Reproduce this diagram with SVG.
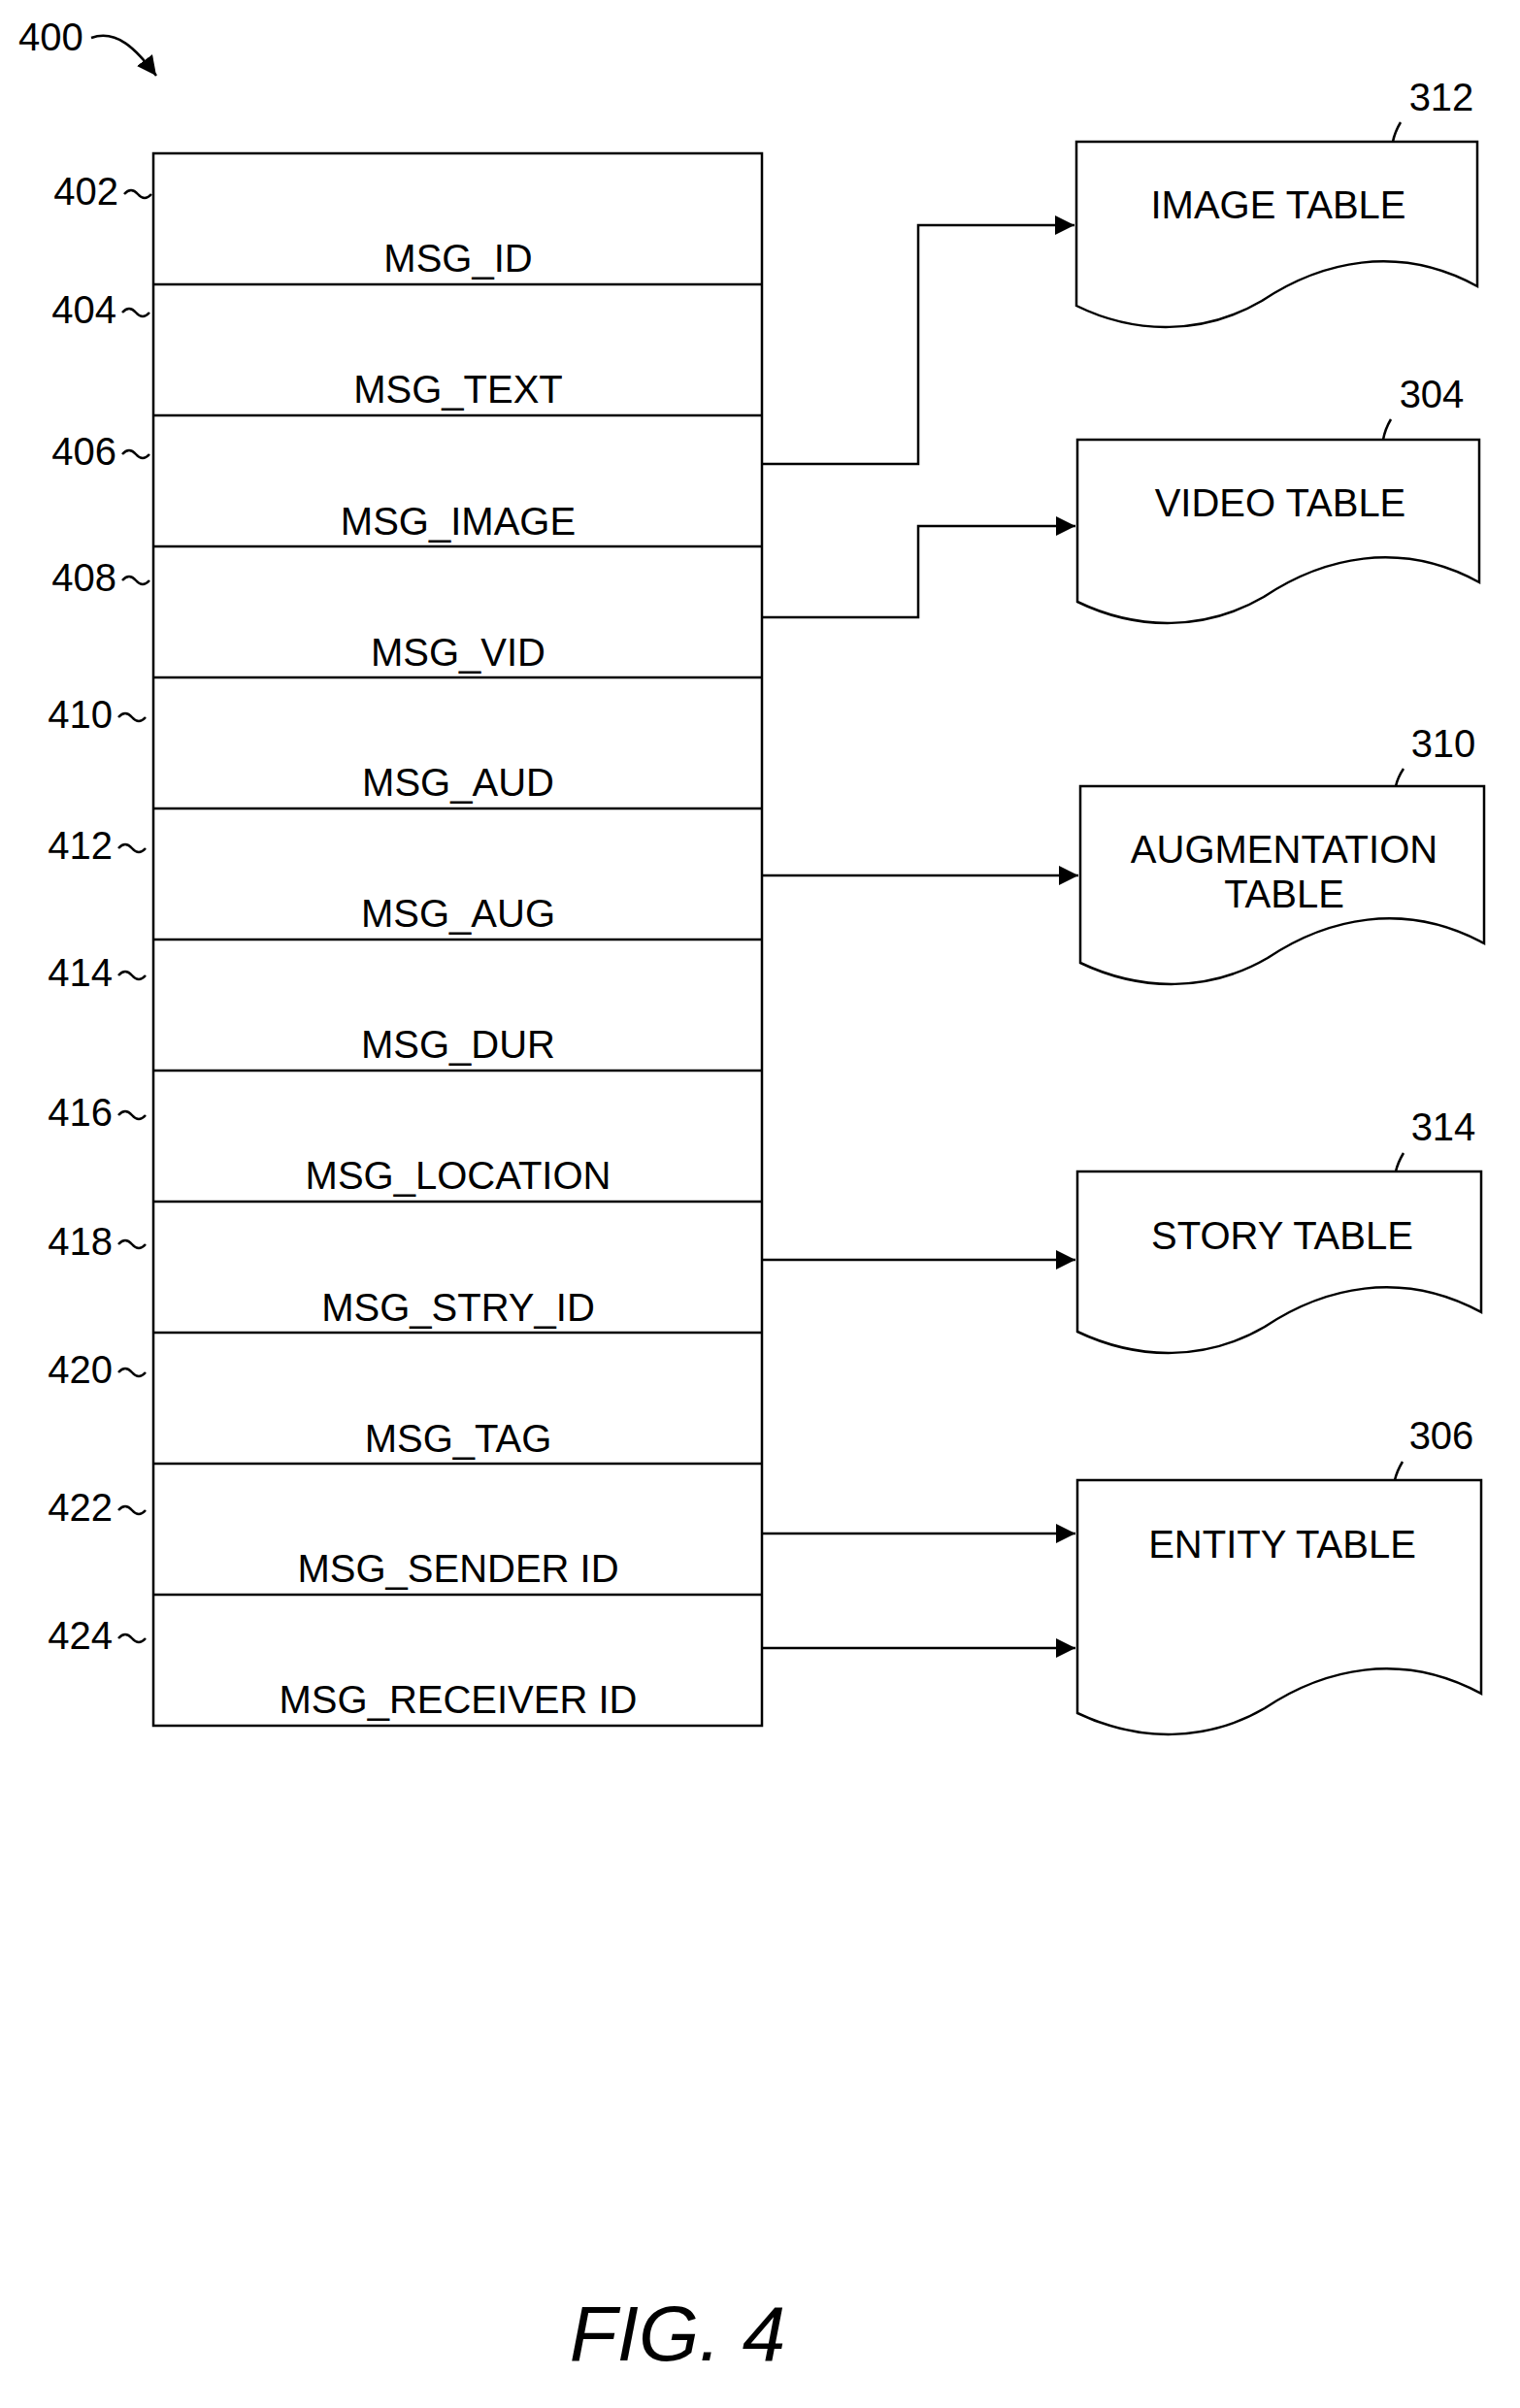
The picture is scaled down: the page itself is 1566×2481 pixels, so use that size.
<svg xmlns="http://www.w3.org/2000/svg" width="1566" height="2481" viewBox="0 0 1566 2481">
<style>
.t{font-family:"Liberation Sans",Arial,sans-serif;font-size:40px;fill:#000;text-anchor:middle}
.n{font-family:"Liberation Sans",Arial,sans-serif;font-size:40px;fill:#000;text-anchor:end}
.l{fill:none;stroke:#000;stroke-width:2.5}
.d{fill:#fff;stroke:#000;stroke-width:2.5}
</style>
<defs>
<marker id="ab" viewBox="0 0 10 10" refX="10" refY="5" markerWidth="20" markerHeight="20" markerUnits="userSpaceOnUse" orient="auto"><path d="M0,0 L10,5 L0,10 z"/></marker>
</defs>
<text x="19" y="52" class="t" style="text-anchor:start">400</text>
<path class="l" d="M94,39 C120,30 140,50 161,78" marker-end="url(#ab)"/>
<g id="record">
<rect class="d" x="158" y="158" width="627" height="1620"/>
<g class="l">
<path d="M158,293H785M158,428H785M158,563H785M158,698H785M158,833H785M158,968H785M158,1103H785M158,1238H785M158,1373H785M158,1508H785M158,1643H785"/>
</g>
<text class="t" x="472" y="280">MSG_ID</text>
<text class="t" x="472" y="415">MSG_TEXT</text>
<text class="t" x="472" y="551">MSG_IMAGE</text>
<text class="t" x="472" y="686">MSG_VID</text>
<text class="t" x="472" y="820">MSG_AUD</text>
<text class="t" x="472" y="955">MSG_AUG</text>
<text class="t" x="472" y="1090">MSG_DUR</text>
<text class="t" x="472" y="1225">MSG_LOCATION</text>
<text class="t" x="472" y="1361">MSG_STRY_ID</text>
<text class="t" x="472" y="1496">MSG_TAG</text>
<text class="t" x="472" y="1630">MSG_SENDER ID</text>
<text class="t" x="472" y="1765">MSG_RECEIVER ID</text>
</g>
<g id="refs">
<text class="n" x="122" y="211">402</text>
<text class="n" x="120" y="333">404</text>
<text class="n" x="120" y="479">406</text>
<text class="n" x="120" y="609">408</text>
<text class="n" x="116" y="750">410</text>
<text class="n" x="116" y="885">412</text>
<text class="n" x="116" y="1016">414</text>
<text class="n" x="116" y="1160">416</text>
<text class="n" x="116" y="1293">418</text>
<text class="n" x="116" y="1425">420</text>
<text class="n" x="116" y="1567">422</text>
<text class="n" x="116" y="1699">424</text>
<g class="l" stroke-width="2">
<path d="M128,200 q7,-8 14,0 t14,0"/>
<path d="M126,322 q7,-8 14,0 t14,0"/>
<path d="M126,468 q7,-8 14,0 t14,0"/>
<path d="M126,598 q7,-8 14,0 t14,0"/>
<path d="M122,739 q7,-8 14,0 t14,0"/>
<path d="M122,874 q7,-8 14,0 t14,0"/>
<path d="M122,1005 q7,-8 14,0 t14,0"/>
<path d="M122,1149 q7,-8 14,0 t14,0"/>
<path d="M122,1282 q7,-8 14,0 t14,0"/>
<path d="M122,1414 q7,-8 14,0 t14,0"/>
<path d="M122,1556 q7,-8 14,0 t14,0"/>
<path d="M122,1688 q7,-8 14,0 t14,0"/>
</g>
</g>
<g id="image_table">
<path class="d" d="M1109,146 H1522 V295 C1440,250 1360,270 1300,310 C1240,345 1170,345 1109,315 Z"/>
<text class="t" x="1317" y="225">IMAGE TABLE</text>
<text class="t" x="1485" y="114">312</text>
<path class="l" d="M1443,126 q-6,10 -8,20" stroke-width="2"/>
</g>
<g id="video_table">
<path class="d" d="M1110,453 H1524 V600 C1442,555 1362,575 1302,615 C1242,650 1172,650 1110,620 Z"/>
<text class="t" x="1319" y="532">VIDEO TABLE</text>
<text class="t" x="1475" y="420">304</text>
<path class="l" d="M1433,432 q-6,10 -8,21" stroke-width="2"/>
</g>
<g id="augmentation_table">
<path class="d" d="M1113,810 H1529 V972 C1446,927 1366,947 1306,987 C1246,1022 1176,1022 1113,992 Z"/>
<text class="t" x="1323" y="889">AUGMENTATION</text>
<text class="t" x="1323" y="935">TABLE</text>
<text class="t" x="1487" y="780">310</text>
<path class="l" d="M1446,792 q-6,9 -8,18" stroke-width="2"/>
</g>
<g id="story_table">
<path class="d" d="M1110,1207 H1526 V1352 C1443,1307 1363,1327 1303,1367 C1243,1402 1173,1402 1110,1372 Z"/>
<text class="t" x="1321" y="1287">STORY TABLE</text>
<text class="t" x="1487" y="1175">314</text>
<path class="l" d="M1446,1188 q-6,10 -8,19" stroke-width="2"/>
</g>
<g id="entity_table">
<path class="d" d="M1110,1525 H1526 V1745 C1443,1700 1363,1720 1303,1760 C1243,1795 1173,1795 1110,1765 Z"/>
<text class="t" x="1321" y="1605">ENTITY TABLE</text>
<text class="t" x="1485" y="1493">306</text>
<path class="l" d="M1445,1506 q-6,10 -8,19" stroke-width="2"/>
</g>
<g id="connectors" class="l">
<path d="M785,478 H946 V232 H1107" marker-end="url(#ab)"/>
<path d="M785,636 H946 V542 H1108" marker-end="url(#ab)"/>
<path d="M785,902 H1111" marker-end="url(#ab)"/>
<path d="M785,1298 H1108" marker-end="url(#ab)"/>
<path d="M785,1580 H1108" marker-end="url(#ab)"/>
<path d="M785,1698 H1108" marker-end="url(#ab)"/>
</g>
<text x="698" y="2432" class="t" style="font-size:80px;font-style:italic">FIG. 4</text>
</svg>
